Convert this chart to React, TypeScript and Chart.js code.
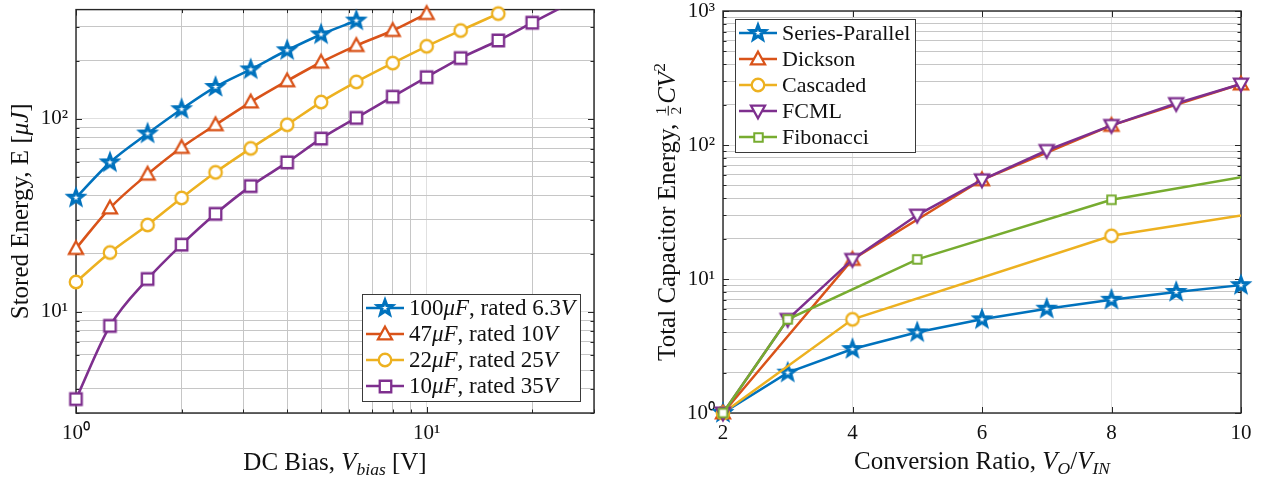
import React, { useEffect, useRef } from 'react';
import { Chart, registerables } from 'chart.js';

Chart.register(...registerables);

const SERIF = '"Liberation Serif", "Times New Roman", serif';
const AXIS_COLOR = '#262626';
const MAJOR_GRID = '#e0e0e0';
const MINOR_GRID = '#c6c6c6';
const TEXT_COLOR = '#111111';

const BLUE = '#0072BD';
const ORANGE = '#D95319';
const YELLOW = '#EDB120';
const PURPLE = '#7E2F8E';
const GREEN = '#77AC30';

// ---------------- Left chart: stored energy vs DC bias ----------------
const biasVoltage = [1, 1.25, 1.6, 2, 2.5, 3.15, 4, 5, 6.3, 8, 10, 12.5, 16, 20, 25];
const energy100uF = [39, 59.4, 83.8, 112, 146, 180, 226, 273, 322];
const energy47uF = [21.3, 34.5, 51.6, 71, 93, 122, 157, 196, 239, 286, 350];
const energy22uF = [14.3, 20.3, 28.2, 38.9, 52.8, 70.2, 93, 122, 155, 194, 237, 286, 350];
const energy10uF = [3.54, 8.47, 14.8, 22.3, 32.2, 44.8, 59.4, 78.9, 101, 130, 164, 206, 254, 314, 388];

const leftXMin = 1;
const leftXMax = 30;
const leftYMin = 3;
const leftYMax = 367;
const leftXTicks = [1, 2, 3, 4, 5, 6, 7, 8, 9, 10, 20, 30];
const leftXLabelValues = [1, 10];
const leftXLabelTexts = ['10⁰', '10¹'];
const leftYTicks = [3, 4, 5, 6, 7, 8, 9, 10, 20, 30, 40, 50, 60, 70, 80, 90, 100, 200, 300];
const leftYLabelValues = [10, 100];
const leftYLabelTexts = ['10¹', '10²'];

// ---------------- Right chart: total capacitor energy vs conversion ratio ----------------
const spRatios = [2, 3, 4, 5, 6, 7, 8, 9, 10];
const spEnergy = [1, 2, 3, 4, 5, 6, 7, 8, 9];
const dicksonRatios = [2, 4, 6, 8, 10];
const dicksonEnergy = [1, 14, 55, 140, 285];
const cascadedRatios = [2, 4, 8, 16];
const cascadedEnergy = [1, 5, 21, 85];
const fcmlRatios = [2, 3, 4, 5, 6, 7, 8, 9, 10];
const fcmlEnergy = [1, 5, 14, 30, 55, 91, 140, 204, 285];
const fibRatios = [2, 3, 5, 8, 13];
const fibEnergy = [1, 5, 14, 39, 103];

const rightXMin = 2;
const rightXMax = 10;
const rightXStep = 2;
const rightYMin = 1;
const rightYMax = 1000;
const rightYTicks = [
  1, 2, 3, 4, 5, 6, 7, 8, 9, 10, 20, 30, 40, 50, 60, 70, 80, 90,
  100, 200, 300, 400, 500, 600, 700, 800, 900, 1000,
];
const rightYLabelValues = [1, 10, 100, 1000];
const rightYLabelTexts = ['10⁰', '10¹', '10²', '10³'];

// ---------------- rich text ----------------
type Seg = { t: string; i?: boolean; sub?: boolean; sup?: boolean; frac?: boolean; d?: string };

const leftXTitle: Seg[] = [{ t: 'DC Bias, ' }, { t: 'V', i: true }, { t: 'bias', i: true, sub: true }, { t: ' [V]' }];
const leftYTitle: Seg[] = [{ t: 'Stored Energy, E [' }, { t: 'μJ', i: true }, { t: ']' }];
const rightXTitle: Seg[] = [
  { t: 'Conversion Ratio, ' },
  { t: 'V', i: true },
  { t: 'O', i: true, sub: true },
  { t: '/' },
  { t: 'V', i: true },
  { t: 'IN', i: true, sub: true },
];
const rightYTitle: Seg[] = [
  { t: 'Total Capacitor Energy, ' },
  { t: '1', frac: true, d: '2' },
  { t: 'CV', i: true },
  { t: '2', sup: true },
];

const leftSeriesLabels: Seg[][] = [
  [{ t: '100' }, { t: 'μF', i: true }, { t: ', rated 6.3' }, { t: 'V', i: true }],
  [{ t: '47' }, { t: 'μF', i: true }, { t: ', rated 10' }, { t: 'V', i: true }],
  [{ t: '22' }, { t: 'μF', i: true }, { t: ', rated 25' }, { t: 'V', i: true }],
  [{ t: '10' }, { t: 'μF', i: true }, { t: ', rated 35' }, { t: 'V', i: true }],
];
const rightSeriesLabels: Seg[][] = [
  [{ t: 'Series-Parallel' }],
  [{ t: 'Dickson' }],
  [{ t: 'Cascaded' }],
  [{ t: 'FCML' }],
  [{ t: 'Fibonacci' }],
];

const plain = (segs: Seg[]) => segs.map((s) => (s.frac ? `${s.t}/${s.d}` : s.t)).join('');

function setFont(ctx: CanvasRenderingContext2D, seg: Seg, size: number) {
  const s = seg.sub || seg.sup ? size * 0.7 : seg.frac ? size * 0.62 : size;
  ctx.font = `${seg.i ? 'italic ' : ''}${s}px ${SERIF}`;
}
function segWidth(ctx: CanvasRenderingContext2D, seg: Seg, size: number) {
  setFont(ctx, seg, size);
  if (seg.frac) return Math.max(ctx.measureText(seg.t).width, ctx.measureText(seg.d || '').width) + size * 0.24;
  return ctx.measureText(seg.t).width;
}
function richWidth(ctx: CanvasRenderingContext2D, segs: Seg[], size: number) {
  return segs.reduce((w, s) => w + segWidth(ctx, s, size), 0);
}
function drawRich(ctx: CanvasRenderingContext2D, segs: Seg[], x: number, y: number, size: number) {
  let cx = x;
  ctx.textBaseline = 'alphabetic';
  for (const seg of segs) {
    const w = segWidth(ctx, seg, size);
    setFont(ctx, seg, size);
    if (seg.frac) {
      const mid = cx + w / 2;
      const bar = y - size * 0.27;
      ctx.textAlign = 'center';
      ctx.fillText(seg.t, mid, bar - 2);
      ctx.fillText(seg.d || '', mid, bar + 2 + size * 0.42);
      ctx.textAlign = 'left';
      ctx.save();
      ctx.strokeStyle = ctx.fillStyle as string;
      ctx.lineWidth = 1;
      ctx.beginPath();
      ctx.moveTo(cx + size * 0.08, bar);
      ctx.lineTo(cx + w - size * 0.08, bar);
      ctx.stroke();
      ctx.restore();
    } else {
      const dy = seg.sub ? size * 0.2 : seg.sup ? -size * 0.4 : 0;
      ctx.textAlign = 'left';
      ctx.fillText(seg.t, cx, y + dy);
    }
    cx += w;
  }
}

// ---------------- markers ----------------
function makeMarker(shape: string, color: string, size: number, lw: number): HTMLCanvasElement {
  const dim = Math.ceil(size + lw * 4 + 4);
  const c = document.createElement('canvas');
  c.width = dim;
  c.height = dim;
  const g = c.getContext('2d')!;
  const cx = dim / 2;
  const cy = dim / 2;
  const r = size / 2;
  g.beginPath();
  if (shape === 'star') {
    for (let k = 0; k < 10; k++) {
      const ang = -Math.PI / 2 + (k * Math.PI) / 5;
      const rr = k % 2 === 0 ? r : r * 0.42;
      const px = cx + rr * Math.cos(ang);
      const py = cy + rr * Math.sin(ang);
      if (k === 0) g.moveTo(px, py);
      else g.lineTo(px, py);
    }
  } else if (shape === 'tri') {
    const h = size * 0.9;
    g.moveTo(cx, cy - h / 2 - 1);
    g.lineTo(cx + r, cy + h / 2 - 1);
    g.lineTo(cx - r, cy + h / 2 - 1);
  } else if (shape === 'tridown') {
    const h = size * 0.9;
    g.moveTo(cx, cy + h / 2 + 1);
    g.lineTo(cx + r, cy - h / 2 + 1);
    g.lineTo(cx - r, cy - h / 2 + 1);
  } else if (shape === 'circle') {
    g.arc(cx, cy, r, 0, Math.PI * 2);
  } else {
    g.rect(cx - r, cy - r, size, size);
  }
  g.closePath();
  g.fillStyle = '#ffffff';
  g.fill();
  g.lineWidth = lw;
  g.lineJoin = 'miter';
  g.miterLimit = 4;
  g.strokeStyle = color;
  g.stroke();
  return c;
}

// ---------------- decoration plugin ----------------
type DecorOpts = {
  xTitle: Seg[];
  yTitle: Seg[];
  xTitleBaseline: number;
  yTitleBaseline: number;
  titleSize: number;
  xMajor: (v: number) => boolean;
  yMajor: (v: number) => boolean;
  legend: {
    labels: Seg[][];
    colors: string[];
    images: HTMLCanvasElement[];
    corner: 'br' | 'tl';
    gapX: number;
    gapY: number;
    size: number;
  };
};

function makeDecor(o: DecorOpts) {
  return {
    id: 'matlabDecor',
    beforeDatasetsDraw(chart: any) {
      const { ctx, chartArea: a } = chart;
      const xs = chart.scales.x;
      const ys = chart.scales.y;
      ctx.save();
      ctx.strokeStyle = AXIS_COLOR;
      ctx.lineWidth = 1;
      ctx.beginPath();
      for (const t of xs.ticks) {
        const px = Math.round(xs.getPixelForValue(t.value)) + 0.5;
        const L = o.xMajor(t.value) ? 6 : 3.5;
        ctx.moveTo(px, a.bottom);
        ctx.lineTo(px, a.bottom - L);
        ctx.moveTo(px, a.top);
        ctx.lineTo(px, a.top + L);
      }
      for (const t of ys.ticks) {
        const py = Math.round(ys.getPixelForValue(t.value)) + 0.5;
        const L = o.yMajor(t.value) ? 6 : 3.5;
        ctx.moveTo(a.left, py);
        ctx.lineTo(a.left + L, py);
        ctx.moveTo(a.right, py);
        ctx.lineTo(a.right - L, py);
      }
      ctx.stroke();
      ctx.lineWidth = 1.4;
      ctx.strokeRect(a.left, a.top, a.right - a.left, a.bottom - a.top);
      ctx.restore();
    },
    afterDraw(chart: any) {
      const { ctx, chartArea: a } = chart;
      ctx.save();
      ctx.fillStyle = TEXT_COLOR;
      // x title
      const xw = richWidth(ctx, o.xTitle, o.titleSize);
      drawRich(ctx, o.xTitle, (a.left + a.right) / 2 - xw / 2, o.xTitleBaseline, o.titleSize);
      // y title
      const yw = richWidth(ctx, o.yTitle, o.titleSize);
      ctx.save();
      ctx.translate(o.yTitleBaseline, (a.top + a.bottom) / 2);
      ctx.rotate(-Math.PI / 2);
      drawRich(ctx, o.yTitle, -yw / 2, 0, o.titleSize);
      ctx.restore();

      // legend
      const L = o.legend;
      const widths = L.labels.map((s) => richWidth(ctx, s, L.size));
      const w = Math.round(47 + Math.max(...widths) + 5);
      const h = L.labels.length * 26 + 3;
      let bx: number;
      let by: number;
      if (L.corner === 'br') {
        bx = Math.round(a.right - L.gapX - w);
        by = Math.round(a.bottom - L.gapY - h);
      } else {
        bx = Math.round(a.left + L.gapX);
        by = Math.round(a.top + L.gapY);
      }
      ctx.fillStyle = '#ffffff';
      ctx.fillRect(bx, by, w, h);
      ctx.strokeStyle = '#3a3a3a';
      ctx.lineWidth = 1;
      ctx.strokeRect(bx + 0.5, by + 0.5, w, h);
      L.labels.forEach((segs, k) => {
        const cy = by + 14 + k * 26;
        ctx.strokeStyle = L.colors[k];
        ctx.lineWidth = 2.5;
        ctx.beginPath();
        ctx.moveTo(bx + 4, cy);
        ctx.lineTo(bx + 42, cy);
        ctx.stroke();
        const img = L.images[k];
        ctx.drawImage(img, Math.round(bx + 23 - img.width / 2), Math.round(cy - img.height / 2));
        ctx.fillStyle = TEXT_COLOR;
        drawRich(ctx, segs, bx + 47, cy + 7, L.size);
      });
      ctx.restore();
    },
  };
}

const tickFont = { family: SERIF, size: 21 };
const labelFor = (values: number[], texts: string[]) => (v: any) => {
  const idx = values.findIndex((x) => Math.abs(x - Number(v)) < 1e-9);
  return idx >= 0 ? texts[idx] : '';
};
const isIn = (values: number[]) => (v: number) => values.some((x) => Math.abs(x - v) < 1e-9);

const fixY = (width: number) => (s: any) => {
  s.width = width;
  s.paddingTop = 0;
  s.paddingBottom = 0;
};
const fixX = (height: number) => (s: any) => {
  s.height = height;
  s.paddingLeft = 0;
  s.paddingRight = 0;
};

function leftConfig(): any {
  const markers = [
    makeMarker('star', BLUE, 15, 3.2),
    makeMarker('tri', ORANGE, 14, 2.3),
    makeMarker('circle', YELLOW, 12.5, 2.3),
    makeMarker('square', PURPLE, 11.5, 2.3),
  ];
  const series = [energy100uF, energy47uF, energy22uF, energy10uF];
  const colors = [BLUE, ORANGE, YELLOW, PURPLE];
  const n = series.length;
  const datasets = series.map((vals, i) => ({
    label: plain(leftSeriesLabels[i]),
    data: vals.map((y, j) => ({ x: biasVoltage[j], y })),
    borderColor: colors[i],
    backgroundColor: '#ffffff',
    borderWidth: 2.6,
    pointStyle: markers[i],
    pointRadius: (c: any) => (c.parsed && c.parsed.y > leftYMax ? 0 : 7),
    pointHoverRadius: 7,
    cubicInterpolationMode: 'monotone',
    capBezierPoints: false,
    clip: i === 3 ? { left: 20, right: 20, top: 0, bottom: 20 } : false,
    order: n - i,
  }));
  const xMajor = isIn(leftXLabelValues);
  const yMajor = isIn(leftYLabelValues);
  return {
    type: 'line',
    data: { datasets },
    options: {
      responsive: false,
      animation: false,
      events: [],
      layout: { padding: { top: 7, right: 36, left: 0, bottom: 0 } },
      plugins: { legend: { display: false }, tooltip: { enabled: false } },
      scales: {
        x: {
          type: 'logarithmic',
          min: leftXMin,
          max: leftXMax,
          afterBuildTicks: (s: any) => {
            s.ticks = leftXTicks.map((v) => ({ value: v }));
          },
          afterFit: fixX(65),
          ticks: {
            autoSkip: false,
            maxRotation: 0,
            padding: 8,
            font: tickFont,
            color: TEXT_COLOR,
            callback: labelFor(leftXLabelValues, leftXLabelTexts),
          },
          grid: {
            drawTicks: false,
            color: (c: any) => (c.tick && xMajor(c.tick.value) ? MAJOR_GRID : MINOR_GRID),
            lineWidth: 1,
          },
          border: { display: false },
        },
        y: {
          type: 'logarithmic',
          min: leftYMin,
          max: leftYMax,
          afterBuildTicks: (s: any) => {
            s.ticks = leftYTicks.map((v) => ({ value: v }));
          },
          afterFit: fixY(76),
          ticks: {
            autoSkip: false,
            padding: 8,
            font: tickFont,
            color: TEXT_COLOR,
            callback: labelFor(leftYLabelValues, leftYLabelTexts),
          },
          grid: {
            drawTicks: false,
            color: (c: any) => (c.tick && yMajor(c.tick.value) ? MAJOR_GRID : MINOR_GRID),
            lineWidth: 1,
          },
          border: { display: false },
        },
      },
    },
    plugins: [
      makeDecor({
        xTitle: leftXTitle,
        yTitle: leftYTitle,
        xTitleBaseline: 470,
        yTitleBaseline: 28,
        titleSize: 25,
        xMajor,
        yMajor,
        legend: {
          labels: leftSeriesLabels,
          colors,
          images: markers,
          corner: 'br',
          gapX: 14,
          gapY: 12,
          size: 23,
        },
      }),
    ],
  };
}

function rightConfig(): any {
  const markers = [
    makeMarker('star', BLUE, 15, 3.2),
    makeMarker('tri', ORANGE, 14, 2.3),
    makeMarker('circle', YELLOW, 12.5, 2.3),
    makeMarker('tridown', PURPLE, 14, 2.3),
    makeMarker('square', GREEN, 8.5, 2),
  ];
  const xsList = [spRatios, dicksonRatios, cascadedRatios, fcmlRatios, fibRatios];
  const ysList = [spEnergy, dicksonEnergy, cascadedEnergy, fcmlEnergy, fibEnergy];
  const colors = [BLUE, ORANGE, YELLOW, PURPLE, GREEN];
  const n = xsList.length;
  const datasets = ysList.map((vals, i) => ({
    label: plain(rightSeriesLabels[i]),
    data: vals.map((y, j) => ({ x: xsList[i][j], y })),
    borderColor: colors[i],
    backgroundColor: '#ffffff',
    borderWidth: 2.5,
    pointStyle: markers[i],
    pointRadius: (c: any) => (c.parsed && c.parsed.x > rightXMax ? 0 : 7),
    pointHoverRadius: 7,
    tension: 0,
    clip: i === 2 || i === 4 ? { left: 20, right: 0, top: 20, bottom: 20 } : false,
    order: n - i,
  }));
  const yMajor = isIn(rightYLabelValues);
  return {
    type: 'line',
    data: { datasets },
    options: {
      responsive: false,
      animation: false,
      events: [],
      layout: { padding: { top: 11, right: 20, left: 0, bottom: 0 } },
      plugins: { legend: { display: false }, tooltip: { enabled: false } },
      scales: {
        x: {
          type: 'linear',
          min: rightXMin,
          max: rightXMax,
          afterFit: fixX(65),
          ticks: {
            stepSize: rightXStep,
            autoSkip: false,
            maxRotation: 0,
            padding: 8,
            font: tickFont,
            color: TEXT_COLOR,
          },
          grid: { drawTicks: false, color: MAJOR_GRID, lineWidth: 1 },
          border: { display: false },
        },
        y: {
          type: 'logarithmic',
          min: rightYMin,
          max: rightYMax,
          afterBuildTicks: (s: any) => {
            s.ticks = rightYTicks.map((v) => ({ value: v }));
          },
          afterFit: fixY(93),
          ticks: {
            autoSkip: false,
            padding: 8,
            font: tickFont,
            color: TEXT_COLOR,
            callback: labelFor(rightYLabelValues, rightYLabelTexts),
          },
          grid: {
            drawTicks: false,
            color: (c: any) => (c.tick && yMajor(c.tick.value) ? MAJOR_GRID : MINOR_GRID),
            lineWidth: 1,
          },
          border: { display: false },
        },
      },
    },
    plugins: [
      makeDecor({
        xTitle: rightXTitle,
        yTitle: rightYTitle,
        xTitleBaseline: 469,
        yTitleBaseline: 45,
        titleSize: 25,
        xMajor: () => true,
        yMajor,
        legend: {
          labels: rightSeriesLabels,
          colors,
          images: markers,
          corner: 'tl',
          gapX: 12,
          gapY: 8,
          size: 22,
        },
      }),
    ],
  };
}

function ChartCanvas({ make, left, width }: { make: () => any; left: number; width: number }) {
  const ref = useRef<HTMLCanvasElement>(null);
  useEffect(() => {
    const chart = new Chart(ref.current as HTMLCanvasElement, make());
    return () => chart.destroy();
  }, [make]);
  return (
    <canvas
      ref={ref}
      width={width}
      height={478}
      style={{ position: 'absolute', left, top: 0, width, height: 478, display: 'block' }}
    />
  );
}

export default function App() {
  return (
    <div style={{ position: 'fixed', left: 0, top: 0, width: 1261, height: 478, background: '#ffffff' }}>
      <ChartCanvas make={leftConfig} left={0} width={630} />
      <ChartCanvas make={rightConfig} left={630} width={631} />
    </div>
  );
}
